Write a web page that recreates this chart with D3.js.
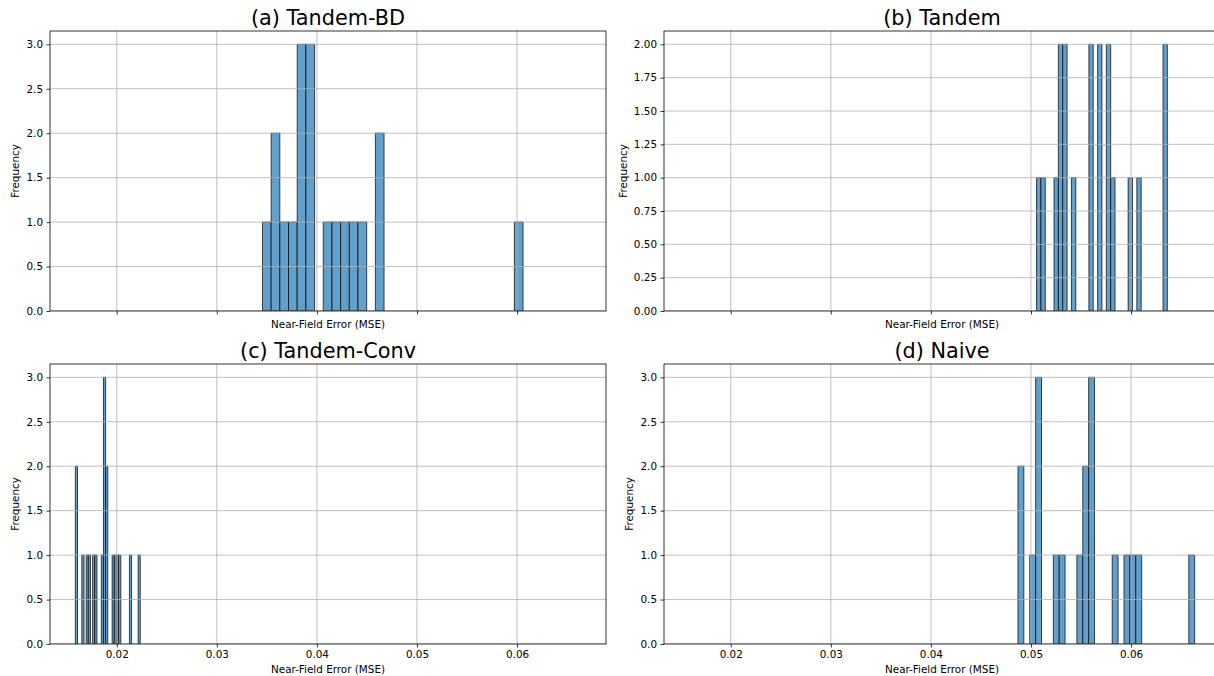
<!DOCTYPE html>
<html>
<head>
<meta charset="utf-8">
<script src="https://cdn.jsdelivr.net/npm/d3@7"></script>
<style>
  html, body { margin: 0; padding: 0; background: #fff; }
  svg { display: block; font-family: "DejaVu Sans", sans-serif; }
</style>
</head>
<body>
<svg id="chart" width="1214" height="676"></svg>
<script>
// ---- data ----
const titles = ["(a) Tandem-BD", "(b) Tandem", "(c) Tandem-Conv", "(d) Naive"];
const xTickValues = [0.02, 0.03, 0.04, 0.05, 0.06];
const xDomain = [0.01333, 0.06889];
// histogram bin ranges [min, max] (30 equal bins each)
const rangeA = [0.03456, 0.0606];
const rangeB = [0.05056, 0.06363];
const rangeC = [0.01586, 0.02235];
const rangeD = [0.0487, 0.06636];
const countsA = [1,2,1,1,3,3,0,1,1,1, 1,1,0,2,0,0,0,0,0,0, 0,0,0,0,0,0,0,0,0,1];
const countsB = [1,1,0,0,1,2,2,0,1,0, 0,0,2,0,2,0,2,1,0,0, 0,1,0,1,0,0,0,0,0,2];
const countsC = [2,0,0,1,0,1,1,0,1,1, 0,0,1,3,2,0,0,1,1,1, 1,0,0,0,0,1,0,0,0,1];
const countsD = [2,0,1,3,0,0,1,1,0,0, 1,2,3,0,0,0,1,0,1,1, 1,0,0,0,0,0,0,0,0,1];
const yTicksA = [0, 0.5, 1.0, 1.5, 2.0, 2.5, 3.0];
const yTicksB = [0, 0.25, 0.5, 0.75, 1.0, 1.25, 1.5, 1.75, 2.0];

const panels = [
  {title: titles[0], range: rangeA, counts: countsA, yMax: 3.15, yTicks: yTicksA, yFmt: ".1f", col: 0, row: 0},
  {title: titles[1], range: rangeB, counts: countsB, yMax: 2.1,  yTicks: yTicksB, yFmt: ".2f", col: 1, row: 0},
  {title: titles[2], range: rangeC, counts: countsC, yMax: 3.15, yTicks: yTicksA, yFmt: ".1f", col: 0, row: 1},
  {title: titles[3], range: rangeD, counts: countsD, yMax: 3.15, yTicks: yTicksA, yFmt: ".1f", col: 1, row: 1}
];

// ---- layout ----
const colX = [[50, 606], [664, 1220]];
const rowY = [[31, 311], [364, 644]];
const tickFont = 10.4;

const svg = d3.select("#chart");
const root = svg.append("g");

panels.forEach(p => {
  const [x0, x1] = colX[p.col];
  const [y0, y1] = rowY[p.row];
  const x = d3.scaleLinear().domain(xDomain).range([x0, x1]);
  const y = d3.scaleLinear().domain([0, p.yMax]).range([y1, y0]);
  const g = root.append("g");
  const cid = "clip" + p.col + p.row;
  g.append("clipPath").attr("id", cid).append("rect")
    .attr("x", x0).attr("y", y0).attr("width", x1 - x0).attr("height", y1 - y0);

  // bins
  const n = p.counts.length;
  const w = (p.range[1] - p.range[0]) / n;
  const bins = p.counts.map((c, i) => ({x0: p.range[0] + i * w, x1: p.range[0] + (i + 1) * w, c}));

  g.append("g").attr("clip-path", `url(#${cid})`)
    .selectAll("rect").data(bins.filter(b => b.c > 0)).join("rect")
    .attr("x", b => x(b.x0))
    .attr("width", b => x(b.x1) - x(b.x0))
    .attr("y", b => y(b.c))
    .attr("height", b => y(0) - y(b.c))
    .attr("fill", "rgb(98,160,203)")
    .attr("stroke", "rgba(0,0,0,0.7)")
    .attr("stroke-width", 1);

  // grid (above bars, as matplotlib default)
  const grid = g.append("g").attr("clip-path", `url(#${cid})`);
  grid.selectAll("line.gx").data(xTickValues).join("line")
    .attr("x1", d => x(d)).attr("x2", d => x(d))
    .attr("y1", y0).attr("y2", y1)
    .attr("stroke", "#b0b0b0").attr("stroke-width", 0.8);
  grid.selectAll("line.gy").data(p.yTicks).join("line")
    .attr("x1", x0).attr("x2", x1)
    .attr("y1", d => y(d)).attr("y2", d => y(d))
    .attr("stroke", "#b0b0b0").attr("stroke-width", 0.8);

  // axes
  const xAxis = d3.axisBottom(x).tickValues(xTickValues).tickSizeOuter(0).tickSizeInner(3.5).tickPadding(3.5)
    .tickFormat(p.row === 1 ? d3.format(".2f") : () => "");
  const gx = g.append("g").attr("transform", `translate(0,${y1})`).call(xAxis);
  gx.select(".domain").remove();
  gx.selectAll(".tick line").attr("stroke", "#000").attr("stroke-width", 0.8);
  gx.selectAll(".tick text").attr("fill", "#000").attr("font-size", tickFont).attr("font-family", "DejaVu Sans");

  const yAxis = d3.axisLeft(y).tickValues(p.yTicks).tickSizeOuter(0).tickSizeInner(3.5).tickPadding(3.5)
    .tickFormat(d3.format(p.yFmt));
  const gy = g.append("g").attr("transform", `translate(${x0},0)`).call(yAxis);
  gy.select(".domain").remove();
  gy.selectAll(".tick line").attr("stroke", "#000").attr("stroke-width", 0.8);
  gy.selectAll(".tick text").attr("fill", "#000").attr("font-size", tickFont).attr("font-family", "DejaVu Sans");

  // frame
  g.append("rect").attr("x", x0).attr("y", y0).attr("width", x1 - x0).attr("height", y1 - y0)
    .attr("fill", "none").attr("stroke", "#000").attr("stroke-width", 0.8);

  // labels
  g.append("text").attr("x", (x0 + x1) / 2).attr("y", y0 - 6)
    .attr("text-anchor", "middle").attr("font-size", 20.8).attr("fill", "#000")
    .text(p.title);
  g.append("text").attr("x", (x0 + x1) / 2).attr("y", y1 + (p.row === 1 ? 29 : 17))
    .attr("text-anchor", "middle").attr("font-size", tickFont).attr("fill", "#000")
    .text("Near-Field Error (MSE)");
  const yl = x0 - (p.yFmt === ".2f" ? 37 : 31);
  g.append("text").attr("transform", `translate(${yl},${(y0 + y1) / 2}) rotate(-90)`)
    .attr("text-anchor", "middle").attr("font-size", tickFont).attr("fill", "#000")
    .text("Frequency");
});
</script>
</body>
</html>
